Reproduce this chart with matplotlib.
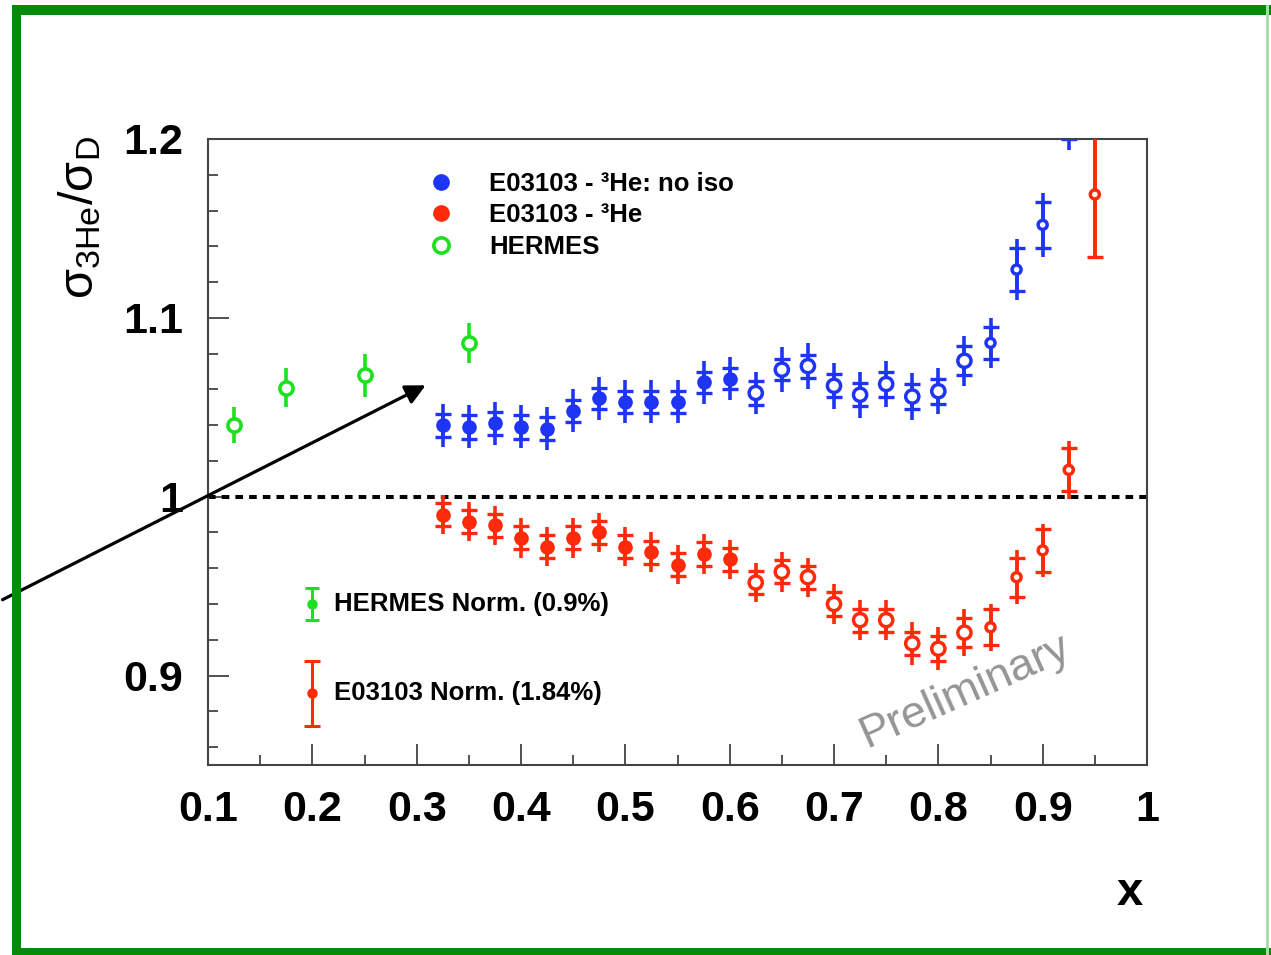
import numpy as np
import matplotlib.pyplot as plt
from matplotlib.lines import Line2D
from matplotlib.patches import Rectangle

plt.rcParams['font.family'] = ['Liberation Sans', 'DejaVu Sans']
plt.rcParams['mathtext.fontset'] = 'custom'
plt.rcParams['mathtext.rm'] = 'Liberation Sans'
plt.rcParams['mathtext.it'] = 'Liberation Sans:italic'
plt.rcParams['mathtext.bf'] = 'Liberation Sans:bold'

# E03103 points (x Bjorken)
x_e03103 = [0.325, 0.35, 0.375, 0.40, 0.425, 0.45, 0.475, 0.50, 0.525, 0.55,
            0.575, 0.60, 0.625, 0.65, 0.675, 0.70, 0.725, 0.75, 0.775, 0.80,
            0.825, 0.85, 0.875, 0.90, 0.925]

# 3He/D without isoscalar correction (blue)
ratio_noiso = [1.040, 1.039, 1.041, 1.039, 1.038, 1.048, 1.055, 1.053, 1.053, 1.053,
               1.064, 1.066, 1.058, 1.071, 1.073, 1.062, 1.057, 1.063, 1.056, 1.059,
               1.076, 1.086, 1.127, 1.152, 1.214]
stat_noiso = [0.0065, 0.0065, 0.0065, 0.0065, 0.0065, 0.006, 0.006, 0.006, 0.006, 0.006,
              0.006, 0.006, 0.0065, 0.006, 0.0065, 0.0065, 0.0065, 0.007, 0.007, 0.007,
              0.008, 0.009, 0.012, 0.013, 0.014]
tot_noiso = [0.012, 0.012, 0.012, 0.012, 0.012, 0.012, 0.012, 0.012, 0.012, 0.012,
             0.012, 0.012, 0.012, 0.0125, 0.013, 0.013, 0.013, 0.013, 0.013, 0.013,
             0.014, 0.014, 0.017, 0.018, 0.020]

# 3He/D (red)
x_he3 = x_e03103 + [0.95]
ratio_he3 = [0.990, 0.986, 0.984, 0.977, 0.972, 0.977, 0.980, 0.972, 0.969, 0.962,
             0.968, 0.965, 0.952, 0.958, 0.955, 0.940, 0.931, 0.931, 0.918, 0.915,
             0.924, 0.927, 0.955, 0.970, 1.015, 1.169]
stat_he3 = [0.0065, 0.0065, 0.0065, 0.0065, 0.0065, 0.0065, 0.0065, 0.0065, 0.0065, 0.0065,
            0.0065, 0.0065, 0.0065, 0.0065, 0.0065, 0.0065, 0.0065, 0.0065, 0.0065, 0.007,
            0.008, 0.010, 0.011, 0.012, 0.012, 0.035]
tot_he3 = [0.011, 0.011, 0.011, 0.011, 0.011, 0.011, 0.011, 0.011, 0.011, 0.011,
           0.011, 0.011, 0.011, 0.011, 0.011, 0.011, 0.011, 0.011, 0.012, 0.012,
           0.013, 0.013, 0.015, 0.015, 0.016, 0.035]

# HERMES
x_hermes = [0.125, 0.175, 0.25, 0.35]
ratio_hermes = [1.040, 1.061, 1.068, 1.086]
err_hermes = [0.010, 0.011, 0.012, 0.011]

# normalisation uncertainties
norm_hermes = 0.009
norm_e03103 = 0.0184

x_ticks = [0.1, 0.2, 0.3, 0.4, 0.5, 0.6, 0.7, 0.8, 0.9, 1.0]
x_ticklabels = ['0.1', '0.2', '0.3', '0.4', '0.5', '0.6', '0.7', '0.8', '0.9', '1']
y_ticks = [0.9, 1.0, 1.1, 1.2]
y_ticklabels = ['0.9', '1', '1.1', '1.2']

blue = '#1f35f5'
red = '#ff2a0a'
green = '#1ee01e'
dis_limit = 0.60   # above this the points are drawn open

W, H = 1271, 955
fig = plt.figure(figsize=(W / 100, H / 100), dpi=100)
ax = fig.add_axes([208 / W, 1 - 765 / H, 939 / W, 626 / H])


def draw_series(x, y, stat, tot, color):
	x = np.array(x)
	y = np.array(y)
	ax.errorbar(x, y, yerr=tot, fmt='none', ecolor=color, elinewidth=2.6, capsize=0, zorder=3)
	ax.errorbar(x, y, yerr=stat, fmt='none', ecolor=color, elinewidth=2.6,
				capsize=5.5, capthick=2.4, zorder=3)
	filled = x <= dis_limit
	ax.plot(x[filled], y[filled], 'o', color=color, ms=9.5, zorder=4)
	op = ~filled
	sizes = np.where(x[op] >= 0.85, 6.5, 9.5) ** 2
	ax.scatter(x[op], y[op], s=sizes, facecolors='white', edgecolors=color,
			   linewidths=2.5, zorder=4)


draw_series(x_e03103, ratio_noiso, stat_noiso, tot_noiso, blue)
draw_series(x_he3, ratio_he3, stat_he3, tot_he3, red)

ax.errorbar(x_hermes, ratio_hermes, yerr=err_hermes, fmt='o', color=green, ms=9.5,
			mfc='white', mew=2.6, elinewidth=2.6, capsize=0, zorder=4)

ax.axhline(1.0, color='black', lw=2.9, ls=(0, (1.9, 1.5)), zorder=2)

# normalisation bars
norm_x = 0.2
ax.errorbar([norm_x], [0.94], yerr=[norm_hermes], fmt='o', color=green, ms=6.5,
			elinewidth=2.2, capsize=5, capthick=2.2)
ax.errorbar([norm_x], [0.89], yerr=[norm_e03103], fmt='o', color=red, ms=6.5,
			elinewidth=2.2, capsize=5.5, capthick=2.2)
ax.text(0.221, 0.94, 'HERMES Norm. (0.9%)', fontsize=18.5, fontweight='bold', va='center')
ax.text(0.221, 0.89, 'E03103 Norm. (1.84%)', fontsize=18.5, fontweight='bold', va='center')

ax.text(0.826, 0.891, 'Preliminary', fontsize=32.5, color='#959595', rotation=24,
		ha='center', va='center', rotation_mode='anchor')

# arrow coming from outside the plot
ax.annotate('', xy=(0.311, 1.063), xycoords='data',
			xytext=(0.0, 1 - 601 / H), textcoords='figure fraction',
			arrowprops=dict(arrowstyle='-|>', color='black', lw=2.3, mutation_scale=30),
			annotation_clip=False)

ax.set_xlim(0.1, 1.0)
ax.set_ylim(0.85, 1.2)
ax.set_xticks(x_ticks)
ax.set_xticklabels(x_ticklabels)
ax.set_yticks(y_ticks)
ax.set_yticklabels(y_ticklabels)
ax.set_xticks(np.arange(0.15, 1.0, 0.1), minor=True)
ax.set_yticks(np.arange(0.86, 1.2, 0.02), minor=True)
ax.tick_params(which='both', direction='in', color='#444444', width=1.3,
			   top=False, right=False)
ax.tick_params(which='major', length=15, pad=18, labelsize=31)
ax.tick_params(which='minor', length=7.5)
for lab in ax.get_xticklabels() + ax.get_yticklabels():
	lab.set_fontweight('bold')
for sp in ax.spines.values():
	sp.set_color('#444444')
	sp.set_linewidth(1.5)

handles = [
	Line2D([], [], ls='none', marker='o', color=blue, ms=11),
	Line2D([], [], ls='none', marker='o', color=red, ms=11),
	Line2D([], [], ls='none', marker='o', color=green, mfc='white', mew=2.6, ms=11),
]
labels = ['E03103 - ³He: no iso', 'E03103 - ³He', 'HERMES']
leg = ax.legend(handles, labels, loc='upper left', bbox_to_anchor=(0.234, 0.948),
				frameon=False, handlelength=1.0, handletextpad=1.39, labelspacing=0.3,
				borderpad=0, borderaxespad=0,
				prop={'size': 18.5, 'weight': 'bold'})

fig.text(80 / W, 1 - 136 / H, r'$\mathrm{\sigma_{3He}/\sigma_D}$', rotation=90,
		 fontsize=35, ha='center', va='top')
fig.text(1130 / W, 1 - 893 / H, 'x', fontsize=34, fontweight='bold',
		 ha='center', va='center')

# green slide frame
frame = '#078a07'
for x0, y0, w, h, c in [(12, 5, 9, 950, frame), (12, 5, 1259, 10, frame),
						(12, 948, 1259, 7, frame), (1266, 5, 3, 950, '#a8dca8')]:
	fig.add_artist(Rectangle((x0 / W, 1 - (y0 + h) / H), w / W, h / H,
							 transform=fig.transFigure, color=c, lw=0))

fig.savefig('out.png', dpi=100)
